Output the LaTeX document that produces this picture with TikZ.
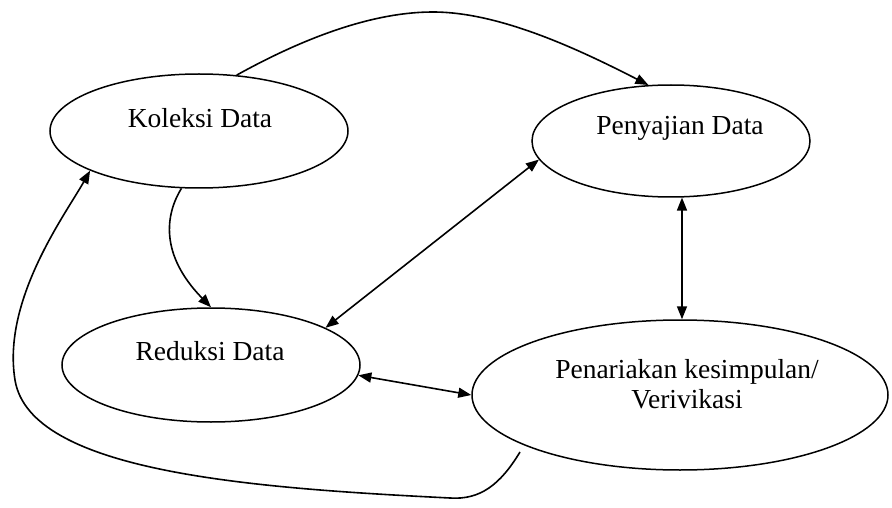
\documentclass[tikz,border=0pt]{standalone}
\usepackage{fontspec}
\setmainfont{Liberation Serif}
\usetikzlibrary{shapes.geometric,arrows.meta}
\begin{document}
\begin{tikzpicture}[x=1pt,y=-1pt,
  oval/.style={draw,ellipse,line width=1.5pt,inner sep=0pt},
  lbl/.style={font=\fontsize{27.5}{30}\selectfont,inner sep=0pt,anchor=base},
  con/.style={line width=1.6pt,-{Triangle[length=13pt,width=10pt]}},
  dcon/.style={line width=1.6pt,{Triangle[length=13pt,width=10pt]}-{Triangle[length=13pt,width=10pt]}}]
\useasboundingbox (0,0) rectangle (892,508);
\node[oval,minimum width=298pt,minimum height=114pt] (kol) at (199,131) {};
\node[oval,minimum width=278pt,minimum height=112pt] (pen) at (671,141) {};
\node[oval,minimum width=298pt,minimum height=114pt] (red) at (211,365) {};
\node[oval,minimum width=416pt,minimum height=150pt] (pan) at (680,395) {};
\node[lbl] (kolT) at (200,128) {Koleksi Data};
\node[lbl] (penT) at (680,135) {Penyajian Data};
\node[lbl] (redT) at (210,360) {Reduksi Data};
\node[lbl] (panT1) at (687,378) {Penariakan kesimpulan/};
\node[lbl] (panT2) at (687,408) {Verivikasi};
\coordinate (peak) at (433,12);
\draw[con] (kol.56) .. controls (300,40) and (370,12) .. (peak)
  .. controls (500,12) and (580,50) .. (pen.112);
\draw[con] (kol.253) .. controls (165,215) and (160,255) .. (red.north);
\draw[dcon] (red.18) -- (pen.188);
\draw[dcon] (pen.281) -- (pen.281 |- pan.north);
\draw[dcon] (red.-4) -- (pan.west);
\coordinate (loopstart) at (520,452);
\draw[con] (loopstart) .. controls (500,485) and (480,500) .. (450,498)
  .. controls (250,488) and (30,472) .. (15,380)
  .. controls (2,300) and (65,215) .. (kol.200);
\end{tikzpicture}
\end{document}
